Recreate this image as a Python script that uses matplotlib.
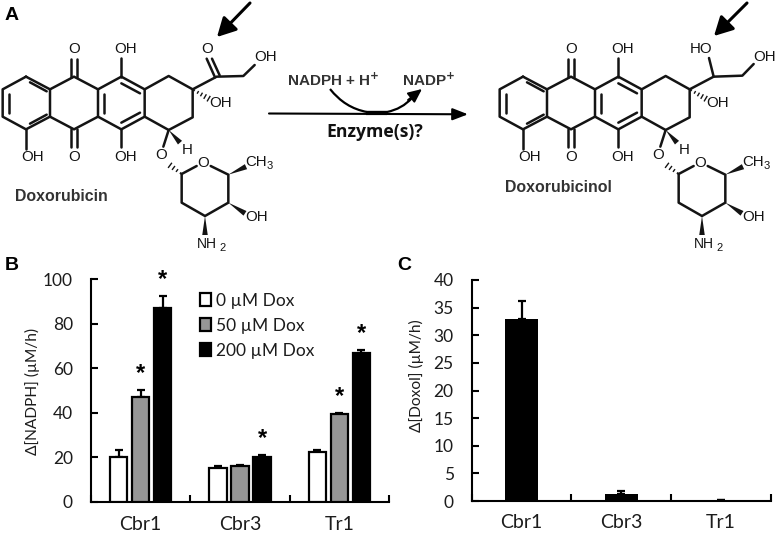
import matplotlib
matplotlib.use("Agg")
import matplotlib.pyplot as plt
import numpy as np
from matplotlib.patches import Polygon, PathPatch, Patch
from matplotlib.path import Path

W, H = 777, 534
# ---- data ----
groups = ["Cbr1", "Cbr3", "Tr1"]
dox_labels = ["0 µM Dox", "50 µM Dox", "200 µM Dox"]
nadph_0 = [20, 15.2, 22.3]
nadph_50 = [47, 16, 39.3]
nadph_200 = [87, 20, 67]
nadph_0_err = [3.5, 0.8, 1.0]
nadph_50_err = [3.3, 0.5, 0.8]
nadph_200_err = [5.5, 1.2, 1.2]
doxol = [33, 1.3, 0.1]
doxol_err = [3.2, 0.6, 0.1]
# asterisks: (group index, series index, value height of the star)
stars = [(0, 1, 57.5), (0, 2, 100), (1, 2, 28.5), (2, 1, 47.5), (2, 2, 75.5)]

CF = ["Lato", "DejaVu Sans"]
AF = "Liberation Sans"
TXT = "#1c1c1c"
fig = plt.figure(figsize=(W / 100, H / 100), dpi=100)


def axes_px(l, t, r, b):
    return fig.add_axes([l / W, 1 - b / H, (r - l) / W, (b - t) / H])


def style(ax, ymax, yticks, xpad):
    ax.set_xlim(0, 3)
    ax.set_ylim(0, ymax)
    for s in ("top", "right"):
        ax.spines[s].set_visible(False)
    for s in ("left", "bottom"):
        ax.spines[s].set_linewidth(1.5)
    ax.set_yticks(yticks)
    ax.set_xticks([0, 1, 2, 3])
    ax.set_xticklabels([])
    ax.set_xticks([0.5, 1.5, 2.5], minor=True)
    ax.set_xticklabels(groups, minor=True, fontsize=14, family=CF, color=TXT)
    ax.tick_params(axis="x", which="major", direction="in", length=5, width=1.5)
    ax.tick_params(axis="x", which="minor", length=0, pad=xpad)
    ax.tick_params(axis="y", direction="in", length=5, width=1.5, pad=13,
                   labelsize=12.5, labelcolor=TXT)
    for t in ax.get_yticklabels():
        t.set_family(CF)


# ---- panel B ----
axB = axes_px(91, 279.3, 389, 502)
style(axB, 100, [0, 20, 40, 60, 80, 100], 10)
centers = np.array([0.5, 1.5, 2.5])
off = 0.2217
series = [(nadph_0, nadph_0_err, "white"), (nadph_50, nadph_50_err, "#969696"),
          (nadph_200, nadph_200_err, "black")]
for i, (v, e, c) in enumerate(series):
    x = centers + (i - 1) * off
    axB.errorbar(x, v, yerr=[np.zeros(3), e], fmt="none", ecolor="black",
                 elinewidth=1.6, capsize=3, capthick=1.6, zorder=2)
    axB.bar(x, v, width=0.175, color=c, edgecolor="black", linewidth=1.6, zorder=3)
for g, s, y in stars:
    axB.text(centers[g] + (s - 1) * off, y, "*", ha="center", va="center",
             fontsize=17, fontweight="bold", family=AF, color="black")
axB.set_ylabel("Δ[NADPH] (µM/h)", fontsize=11.2, family=CF, color=TXT)
axB.yaxis.set_label_coords(-0.17, 0.496)
handles = [Patch(facecolor=c, edgecolor="black", linewidth=1.6) for c in ("white", "#969696", "black")]
axB.legend(handles, dox_labels, loc="upper left", bbox_to_anchor=(0.365, 0.94),
           frameon=False, prop={"family": CF, "size": 12.5}, labelcolor=TXT,
           handlelength=0.62, handleheight=0.8, handletextpad=0.32,
           labelspacing=0.52, borderpad=0, borderaxespad=0)

# ---- panel C ----
axC = axes_px(471.7, 280, 771, 501)
style(axC, 40, [0, 5, 10, 15, 20, 25, 30, 35, 40], 9)
axC.errorbar(centers, doxol, yerr=[np.zeros(3), doxol_err], fmt="none", ecolor="black",
             elinewidth=1.6, capsize=3, capthick=1.6, zorder=2)
axC.bar(centers, doxol, width=0.335, color="black", zorder=3)
axC.set_ylabel("Δ[Doxol] (µM/h)", fontsize=11.2, family=CF, color=TXT)
axC.yaxis.set_label_coords(-0.16, 0.566)

# ---- scheme overlay, pixel space ----
ov = fig.add_axes([0, 0, 1, 1], zorder=5)
ov.set_xlim(0, W)
ov.set_ylim(H, 0)
ov.axis("off")
ov.patch.set_alpha(0)
LW = 1.8
INK = "#141414"


def seg(dx, *pts, lw=LW):
    a = np.array(pts, float) / 3
    ov.plot(a[:, 0] + dx, a[:, 1], color=INK, lw=lw, solid_capstyle="round", solid_joinstyle="round")


def wedge(dx, p, q, w=4.5):
    p, q = np.array(p, float) / 3, np.array(q, float) / 3
    d = q - p
    n = np.array([-d[1], d[0]]) / np.hypot(*d) * w / 2
    ov.add_patch(Polygon([p + [dx, 0], q + n + [dx, 0], q - n + [dx, 0]], color=INK, lw=0))


def hashed(dx, p, q, k=5, w=5):
    p, q = np.array(p, float) / 3, np.array(q, float) / 3
    d = q - p
    n = np.array([-d[1], d[0]]) / np.hypot(*d)
    for t in np.linspace(0.1, 1, k):
        c = p + d * t
        h = n * w / 2 * t
        ov.plot([c[0] - h[0] + dx, c[0] + h[0] + dx], [c[1] - h[1], c[1] + h[1]], color=INK, lw=1)


def lab(dx, x, y, s, size=10.8, **k):
    ov.text(x / 3 + dx, y / 3, s, ha=k.pop("ha", "center"), va="center", family=AF,
            fontsize=size, color=INK, **k)


def skeleton(dx):
    seg(dx, (78, 230), (150, 268), (150, 350), (78, 388), (8, 350), (8, 268), (78, 230))
    seg(dx, (150, 268), (222, 230), (294, 268), (294, 350), (222, 388), (150, 350))
    seg(dx, (294, 268), (364, 230), (434, 268), (434, 350), (364, 388), (294, 350))
    seg(dx, (434, 268), (506, 228), (578, 268), (578, 352), (506, 390), (434, 350))
    seg(dx, (90, 247), (140, 274)); seg(dx, (27, 282), (27, 338)); seg(dx, (90, 371), (140, 344))
    seg(dx, (312, 282), (312, 338)); seg(dx, (364, 250), (420, 280)); seg(dx, (364, 368), (420, 338))
    seg(dx, (214, 230), (214, 176)); seg(dx, (231, 230), (231, 176))
    seg(dx, (214, 388), (214, 442)); seg(dx, (231, 388), (231, 442))
    seg(dx, (364, 230), (364, 174)); seg(dx, (364, 388), (364, 442)); seg(dx, (78, 388), (78, 446))
    hashed(dx, (578, 268), (626, 296))
    seg(dx, (506, 390), (490, 440)); wedge(dx, (506, 390), (540, 428), 5.5)
    hashed(dx, (545, 522), (510, 496), 4, 5)
    seg(dx, (545, 522), (590, 498)); seg(dx, (632, 498), (685, 524), (685, 608), (615, 648), (545, 608), (545, 522))
    wedge(dx, (685, 524), (738, 500), 5.5); wedge(dx, (685, 608), (735, 640), 5.5); wedge(dx, (615, 648), (615, 705), 5.5)
    for x, y, s in [(222, 148, "O"), (378, 148, "OH"), (97, 470, "OH"), (222, 470, "O"), (378, 470, "OH"),
                    (661, 310, "OH"), (483, 465, "O"), (561, 450, "H"), (610, 488, "O")]:
        lab(dx, x, y, s)
    lab(dx, 621, 732, "NH", 10)
    lab(dx, 668, 745, "2", 8)
    lab(dx, 737, 650, "OH", ha="left")
    lab(dx, 737, 486, "CH", ha="left")
    lab(dx, 808, 498, "3", 8)


# Doxorubicin
skeleton(0)
seg(0, (578, 268), (650, 230), (730, 228), (764, 195))
seg(0, (645, 232), (620, 176)); seg(0, (659, 226), (636, 176))
lab(0, 622, 148, "O")
lab(0, 764, 170, "OH", ha="left")
ov.text(15.5, 196.5, "Doxorubicin", family=AF, fontsize=11.4, fontweight="bold", color="#333333", va="center")

# Doxorubicinol
dx = 497
skeleton(dx)
seg(dx, (578, 268), (650, 230), (736, 227), (770, 192))
seg(dx, (650, 230), (636, 174))
lab(dx, 613, 148, "HO")
lab(dx, 770, 170, "OH", ha="left")
ov.text(505.5, 188, "Doxorubicinol", family=AF, fontsize=11.4, fontweight="bold", color="#333333", va="center")

# arrows pointing at the reactive carbon
for (x0, y0, x1, y1) in [(250, 3, 217, 37), (747, 3, 714, 36)]:
    ov.annotate("", xy=(x1, y1), xytext=(x0, y0),
                arrowprops=dict(arrowstyle="-|>,head_length=0.75,head_width=0.4", lw=2.2, color="black",
                                shrinkA=0, shrinkB=0, mutation_scale=15))

# reaction arrow
ov.annotate("", xy=(468, 114.3), xytext=(269, 113.5),
            arrowprops=dict(arrowstyle="-|>,head_length=0.62,head_width=0.24", lw=1.5, color="black",
                            shrinkA=0, shrinkB=0, mutation_scale=15))
curve = Path([(330, 89), (345, 108), (367, 112), (387, 112), (402, 109), (412, 98)],
             [Path.MOVETO, Path.CURVE3, Path.CURVE3, Path.LINETO, Path.CURVE3, Path.CURVE3])
ov.add_patch(PathPatch(curve, fill=False, lw=1.6, ec="black"))
ov.plot([366, 387], [113, 113], color="black", lw=3, solid_capstyle="butt")
ov.annotate("", xy=(422, 89), xytext=(408, 100),
            arrowprops=dict(arrowstyle="-|>,head_length=0.55,head_width=0.25", lw=1.4, color="black",
                            shrinkA=0, shrinkB=0, mutation_scale=15))
ov.text(333, 80.5, "NADPH + H$^{\\mathbf{+}}$", family=AF, fontsize=11, fontweight="bold", color="#333333",
        ha="center", va="center", math_fontfamily="dejavusans")
ov.text(429, 80.5, "NADP$^{\\mathbf{+}}$", family=AF, fontsize=11, fontweight="bold", color="#333333",
        ha="center", va="center", math_fontfamily="dejavusans")
ov.text(375, 132, "Enzyme(s)?", family="Open Sans", fontsize=12.6, fontweight="bold", color="#111111",
        ha="center", va="center")

# panel letters
for x, y, s in [(12, 15, "A"), (12, 266, "B"), (404, 266, "C")]:
    ov.text(x, y, s, family=AF, fontsize=14, fontweight="bold", color="black", ha="center", va="center")

fig.savefig("out.png", dpi=100)
